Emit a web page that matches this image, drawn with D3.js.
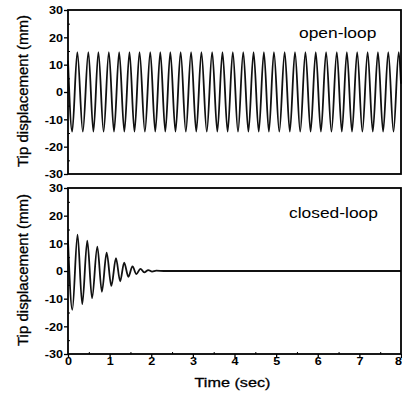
<!DOCTYPE html>
<html>
<head>
<meta charset="utf-8">
<script src="https://cdn.jsdelivr.net/npm/d3@7"></script>
<style>
  body { margin: 0; background: #fff; }
  svg { display: block; }
</style>
</head>
<body>
<svg id="chart" width="402" height="399"></svg>
<script>
// open-loop tip displacement: start, then alternating troughs / peaks
var openTime = [0, 0.100, 0.224, 0.356, 0.489, 0.610, 0.730, 0.855, 0.981, 1.105, 1.229, 1.353,
    1.477, 1.597, 1.718, 1.847, 1.976, 2.096, 2.217, 2.337, 2.458, 2.582, 2.706, 2.831,
    2.957, 3.081, 3.205, 3.334, 3.463, 3.587, 3.711, 3.835, 3.959, 4.084, 4.210, 4.334,
    4.458, 4.582, 4.706, 4.826, 4.947, 5.076, 5.205, 5.329, 5.453, 5.578, 5.704, 5.828,
    5.952, 6.076, 6.200, 6.329, 6.458, 6.578, 6.699, 6.823, 6.947, 7.072, 7.198, 7.322,
    7.446, 7.570, 7.694, 7.820, 7.945, 8.0];
var openDisp = [11.5, -14.5, 14.6, -14.5, 14.6, -14.5, 14.6, -14.5, 14.6, -14.5, 14.6, -14.5,
    14.6, -14.5, 14.6, -14.5, 14.6, -14.5, 14.6, -14.5, 14.6, -14.5, 14.6, -14.5,
    14.6, -14.5, 14.6, -14.5, 14.6, -14.5, 14.6, -14.5, 14.6, -14.5, 14.6, -14.5,
    14.6, -14.5, 14.6, -14.5, 14.6, -14.5, 14.6, -14.5, 14.6, -14.5, 14.6, -14.5,
    14.6, -14.5, 14.6, -14.5, 14.6, -14.5, 14.6, -14.5, 14.6, -14.5, 14.6, -14.5,
    14.6, -14.5, 14.6, -14.5, 14.6, 3.0];

// closed-loop: decaying oscillation, settles by ~2 s
var closedTime = [0, 0.104, 0.229, 0.342, 0.463, 0.578, 0.704, 0.814, 0.928, 1.041, 1.152,
    1.253, 1.349, 1.451, 1.549, 1.643, 1.740, 1.831, 1.928, 2.02, 2.12, 2.3, 8.0];
var closedDisp = [11, -14, 13.1, -12, 11.0, -9.8, 8.8, -7.5, 6.6, -5.4, 4.6,
    -3.7, 3.0, -2.1, 1.7, -1.1, 0.8, -0.5, 0.35, -0.2, 0.1, 0, 0];

var xTicks = [0, 1, 2, 3, 4, 5, 6, 7, 8];
var xMinorTicks = [0.5, 1.5, 2.5, 3.5, 4.5, 5.5, 6.5, 7.5];
var yTicks = [-30, -20, -10, 0, 10, 20, 30];
var yMinorTicks = [-25, -15, -5, 5, 15, 25];

var FONT = "'Liberation Sans', Arial, sans-serif";
var SX = 1.2;   // the scanned figure is a bit wider than tall

var svg = d3.select("#chart");
svg.append("rect").attr("width", 402).attr("height", 399).attr("fill", "#fff");

var x = d3.scaleLinear().domain([0, 8]).range([68, 401]);

var panels = [
    { time: openTime, disp: openDisp, top: 10, bottom: 174, label: "open-loop", lx: 299, ly: 37.5, xLabels: false },
    { time: closedTime, disp: closedDisp, top: 188, bottom: 354, label: "closed-loop", lx: 289, ly: 217.5, xLabels: true }
];

panels.forEach(function(p) {
    var y = d3.scaleLinear().domain([-30, 30]).range([p.bottom, p.top]);
    var g = svg.append("g");

    // data line
    var pts = p.time.map(function(t, i) { return [t, p.disp[i]]; });
    var line = d3.line()
        .x(function(d) { return x(d[0]); })
        .y(function(d) { return y(d[1]); })
        .curve(d3.curveMonotoneX);
    g.append("path")
        .datum(pts)
        .attr("d", line)
        .attr("fill", "none")
        .attr("stroke", "#111")
        .attr("stroke-width", 1.8);

    // frame
    g.append("rect")
        .attr("x", x(0)).attr("y", p.top)
        .attr("width", x(8) - x(0)).attr("height", p.bottom - p.top)
        .attr("fill", "none")
        .attr("stroke", "#000")
        .attr("stroke-width", 1.8);

    // left axis, major ticks outside
    var yAxis = g.append("g")
        .attr("transform", "translate(" + x(0) + ",0)")
        .call(d3.axisLeft(y).tickValues(yTicks).tickSize(4)
            .tickFormat(function(d) { return String(d); }));
    yAxis.select(".domain").remove();
    yAxis.selectAll("line").attr("stroke-width", 1.3);
    yAxis.selectAll("text")
        .attr("x", -5 / SX)
        .attr("dy", "0.35em")
        .attr("transform", "scale(" + SX + ",1)")
        .attr("font-family", FONT)
        .attr("font-size", 10.5)
        .attr("font-weight", "bold")
        .attr("fill", "#000");

    // minor ticks inside
    var yMinor = g.append("g")
        .attr("transform", "translate(" + x(0) + ",0)")
        .call(d3.axisLeft(y).tickValues(yMinorTicks).tickSize(-2).tickFormat(""));
    yMinor.select(".domain").remove();

    if (p.xLabels) {
        var xAxis = g.append("g")
            .attr("transform", "translate(0," + p.bottom + ")")
            .call(d3.axisBottom(x).tickValues(xTicks).tickSize(4)
                .tickFormat(function(d) { return String(d); }));
        xAxis.select(".domain").remove();
        xAxis.selectAll("line").attr("stroke-width", 1.3);
        xAxis.selectAll("text")
            .attr("y", 11)
            .attr("dy", 0)
            // last label sits on the right border; pull it in so it stays on the page
            .attr("x", function(d) { return d === 8 ? -3 / SX : 0; })
            .attr("transform", "scale(" + SX + ",1)")
            .attr("font-family", FONT)
            .attr("font-size", 10.5)
            .attr("font-weight", "bold")
            .attr("fill", "#000");

        var xMinor = g.append("g")
            .attr("transform", "translate(0," + p.bottom + ")")
            .call(d3.axisBottom(x).tickValues(xMinorTicks).tickSize(-2).tickFormat(""));
        xMinor.select(".domain").remove();
    }

    // panel label
    g.append("text")
        .attr("transform", "translate(" + p.lx + "," + p.ly + ") scale(" + SX + ",1)")
        .attr("font-family", FONT)
        .attr("font-size", 14.5)
        .attr("fill", "#000")
        .text(p.label);

    // y title
    g.append("text")
        .attr("transform", "translate(28," + ((p.top + p.bottom) / 2 - 1) + ") rotate(-90)")
        .attr("text-anchor", "middle")
        .attr("font-family", FONT)
        .attr("font-size", 15)
        .attr("fill", "#000")
        .attr("stroke", "#000")
        .attr("stroke-width", 0.3)
        .text("Tip displacement (mm)");
});

// x title
svg.append("text")
    .attr("transform", "translate(232.5,386.5) scale(" + SX + ",1)")
    .attr("text-anchor", "middle")
    .attr("font-family", FONT)
    .attr("font-size", 13.5)
    .attr("fill", "#000")
    .attr("stroke", "#000")
    .attr("stroke-width", 0.3)
    .text("Time (sec)");
</script>
</body>
</html>
